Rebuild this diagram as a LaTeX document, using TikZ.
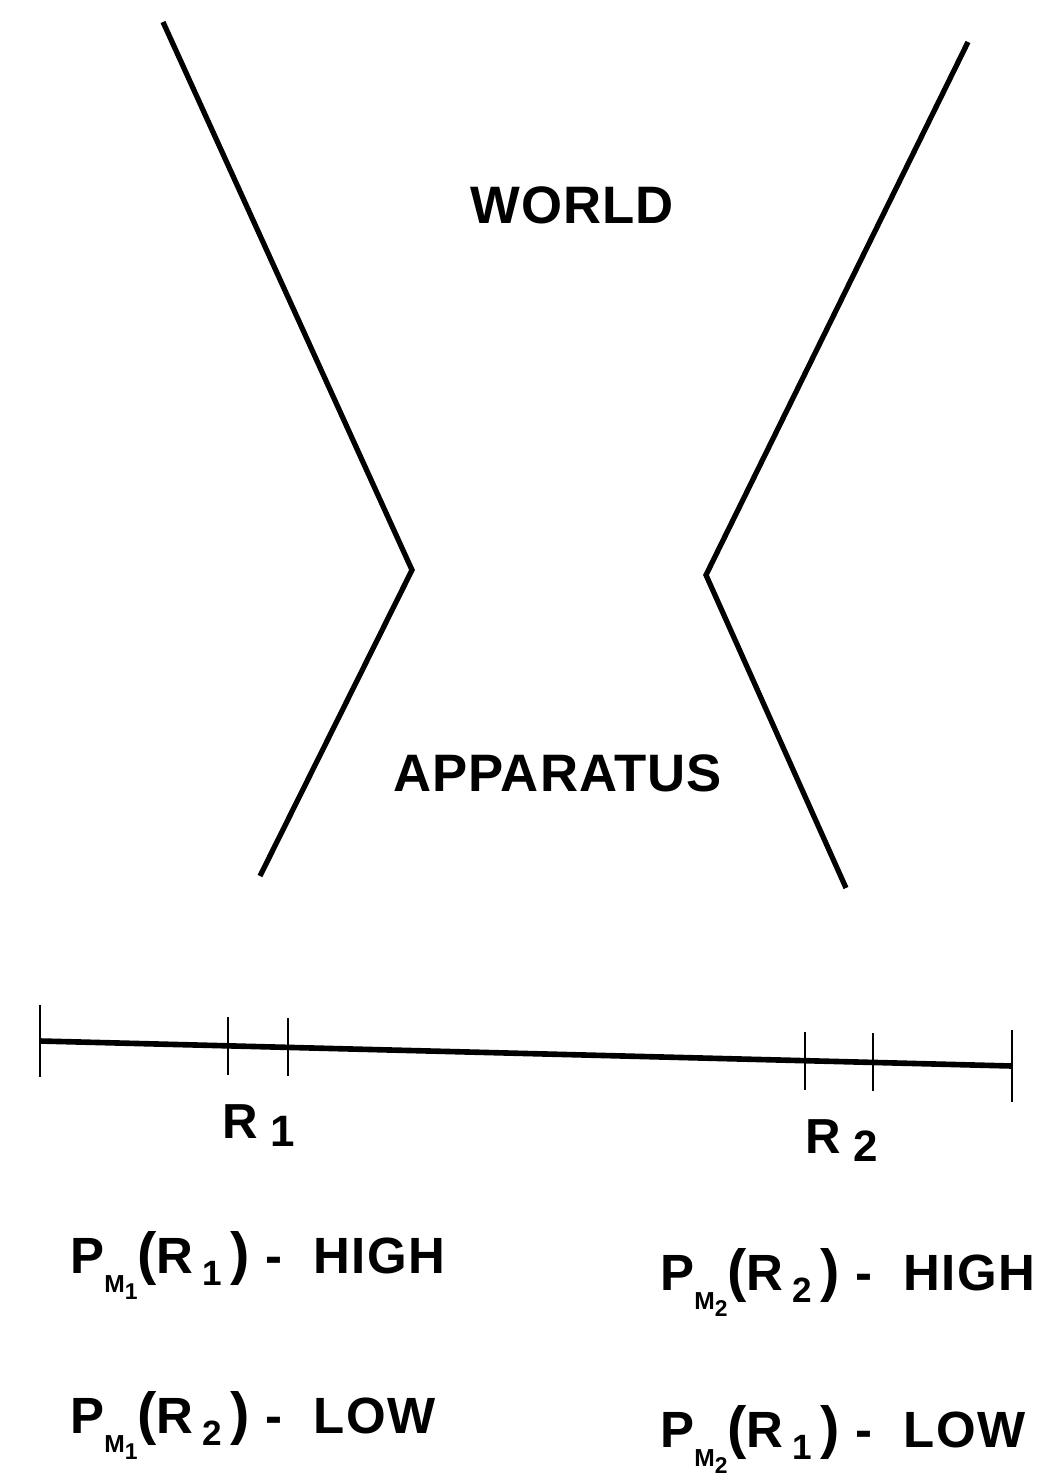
\documentclass[tikz,border=0pt]{standalone}
\usepackage{fontspec}
\setmainfont{Liberation Sans}
\usetikzlibrary{positioning}
\newcommand{\msub}[1]{\raisebox{-11pt}{\fontsize{14}{14}\selectfont M\raisebox{-4pt}{\fontsize{13}{13}\selectfont #1}}}
\newcommand{\rsub}[1]{\,\raisebox{-7pt}{\fontsize{20}{20}\selectfont #1}\,}
\newcommand{\lpar}{{\fontsize{33}{33}\selectfont(}}
\newcommand{\rpar}{{\fontsize{33}{33}\selectfont)}}
\tikzset{
  funnel/.style   = {line width=3pt, line join=miter},
  axisline/.style = {line width=3.2pt},
  tick/.style     = {line width=1.6pt},
  region/.style   = {inner sep=0, anchor=base west, font=\bfseries\fontsize{30}{36}\selectfont\addfontfeature{LetterSpace=2}},
  rlabel/.style   = {inner sep=0, anchor=base west, font=\bfseries\fontsize{28}{34}\selectfont},
  prob/.style     = {inner sep=0, anchor=base west, font=\bfseries\fontsize{29}{34}\selectfont\addfontfeature{LetterSpace=3}}
}

\begin{document}
\begin{tikzpicture}[x=0.02cm, y=-0.02cm]
  \useasboundingbox (0,0) rectangle (1052,1478);
  % world / apparatus boundary
  \coordinate (lt) at (163,22);
  \coordinate (lm) at (412,570);
  \coordinate (lb) at (260,876);
  \coordinate (rt) at (968,42);
  \coordinate (rm) at (706,575);
  \coordinate (rb) at (846,888);
  \draw[funnel] (lt) -- (lm) -- (lb);
  \draw[funnel] (rt) -- (rm) -- (rb);
  \node[region] (world) at (470,223) {WORLD};
  \node[region] (apparatus) at (393,791) {APPARATUS};
  % pointer scale
  \coordinate (a0) at (40,1041);
  \coordinate (a5) at (1012,1066);
  \draw[axisline] (a0) -- (a5)
    coordinate[pos=0.1934] (a1) coordinate[pos=0.2551] (a2)
    coordinate[pos=0.787] (a3) coordinate[pos=0.857] (a4);
  \draw[tick] (a0) ++(0,-36) -- ++(0,72);
  \draw[tick] (a5) ++(0,-36) -- ++(0,72);
  \foreach \t in {a1,a2,a3,a4}
    \draw[tick] (\t) ++(0,-29) -- ++(0,58);
  \node[rlabel] (r1) at (222,1138) {R\raisebox{-5pt}{\fontsize{25}{25}\selectfont\ 1}};
  \node[rlabel] (r2) at (805,1153) {R\raisebox{-5pt}{\fontsize{25}{25}\selectfont\ 2}};
  % probabilities
  \node[prob] (p11) at (70,1273)  {P\msub{1}\lpar R\rsub{1}\rpar\ -\ \ HIGH};
  \node[prob] (p12) at (70,1433)  {P\msub{1}\lpar R\rsub{2}\rpar\ -\ \ LOW};
  \node[prob] (p22) at (660,1290) {P\msub{2}\lpar R\rsub{2}\rpar\ -\ \ HIGH};
  \node[prob] (p21) at (660,1447) {P\msub{2}\lpar R\rsub{1}\rpar\ -\ \ LOW};
\end{tikzpicture}
\end{document}
